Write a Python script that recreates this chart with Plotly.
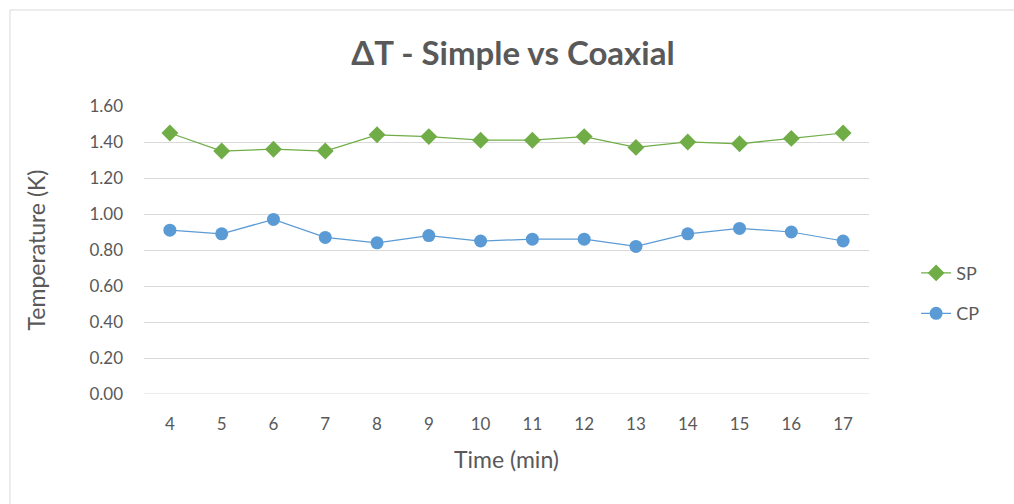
import plotly.graph_objects as go

# Time points (minutes)
time_min = [4, 5, 6, 7, 8, 9, 10, 11, 12, 13, 14, 15, 16, 17]
# Temperature difference, simple pipe (SP) and coaxial pipe (CP), in K
sp_values = [1.45, 1.35, 1.36, 1.35, 1.44, 1.43, 1.41, 1.41, 1.43, 1.37, 1.40, 1.39, 1.42, 1.45]
cp_values = [0.91, 0.89, 0.97, 0.87, 0.84, 0.88, 0.85, 0.86, 0.86, 0.82, 0.89, 0.92, 0.90, 0.85]
y_ticks = [0.0, 0.2, 0.4, 0.6, 0.8, 1.0, 1.2, 1.4, 1.6]

FONT = "Lato"
TEXT = "#595959"
GRID = "#d9d9d9"

x_cat = [str(t) for t in time_min]

fig = go.Figure()
fig.add_trace(go.Scatter(
    x=x_cat, y=sp_values, name="SP", mode="lines+markers",
    line=dict(color="#70ad47", width=1.25),
    marker=dict(symbol="diamond", size=13, color="#70ad47"),
    legendgroup="sp",
))
fig.add_trace(go.Scatter(
    x=x_cat, y=cp_values, name="CP", mode="lines+markers",
    line=dict(color="#5b9bd5", width=1.25),
    marker=dict(symbol="circle", size=13, color="#5b9bd5"),
    legendgroup="cp",
))

fig.update_layout(
    width=1014, height=504,
    margin=dict(l=144, r=145, t=106, b=110),
    paper_bgcolor="white", plot_bgcolor="white",
    font=dict(family=FONT, color=TEXT, size=17),
    title=dict(text="<b>ΔT - Simple vs Coaxial</b>", x=513 / 1014, xref="container",
               xanchor="center",
               y=1 - 53 / 504, yanchor="middle",
               font=dict(family=FONT, size=33, color=TEXT)),
    showlegend=True,
    legend=dict(x=1.065, y=0.35, xanchor="left", yanchor="middle",
                font=dict(size=18, color=TEXT), tracegroupgap=14,
                bgcolor="rgba(0,0,0,0)"),
    xaxis=dict(
        type="category", showgrid=False, zeroline=False, showline=False,
        ticks="", tickfont=dict(size=17, color=TEXT), ticklabelstandoff=18,
        title=dict(text="Time (min)", font=dict(size=23, color=TEXT), standoff=18),
        range=[-0.5, len(time_min) - 0.5],
    ),
    yaxis=dict(
        range=[0, 1.6], tickvals=y_ticks, tickformat=".2f",
        showgrid=True, gridcolor=GRID, gridwidth=1, zeroline=False,
        showline=False, ticks="", tickfont=dict(size=17, color=TEXT),
        ticklabelstandoff=20,
        title=dict(text="Temperature (K)", font=dict(size=23, color=TEXT), standoff=37),
    ),
)

# Baseline at 0 drawn as a gridline
fig.add_shape(type="line", xref="paper", yref="y", x0=0, x1=1, y0=0, y1=0,
              line=dict(color=GRID, width=1), layer="below")

# Chart frame (left and top edges)
fig.add_shape(type="line", xref="paper", yref="paper",
              x0=(10 - 144) / 725, x1=(10 - 144) / 725, y0=(394 - 10) / 288, y1=(394 - 510) / 288,
              line=dict(color=GRID, width=1))
fig.add_shape(type="line", xref="paper", yref="paper",
              x0=(10 - 144) / 725, x1=(1020 - 144) / 725, y0=(394 - 10) / 288, y1=(394 - 10) / 288,
              line=dict(color=GRID, width=1))

fig.write_html("out.html")
